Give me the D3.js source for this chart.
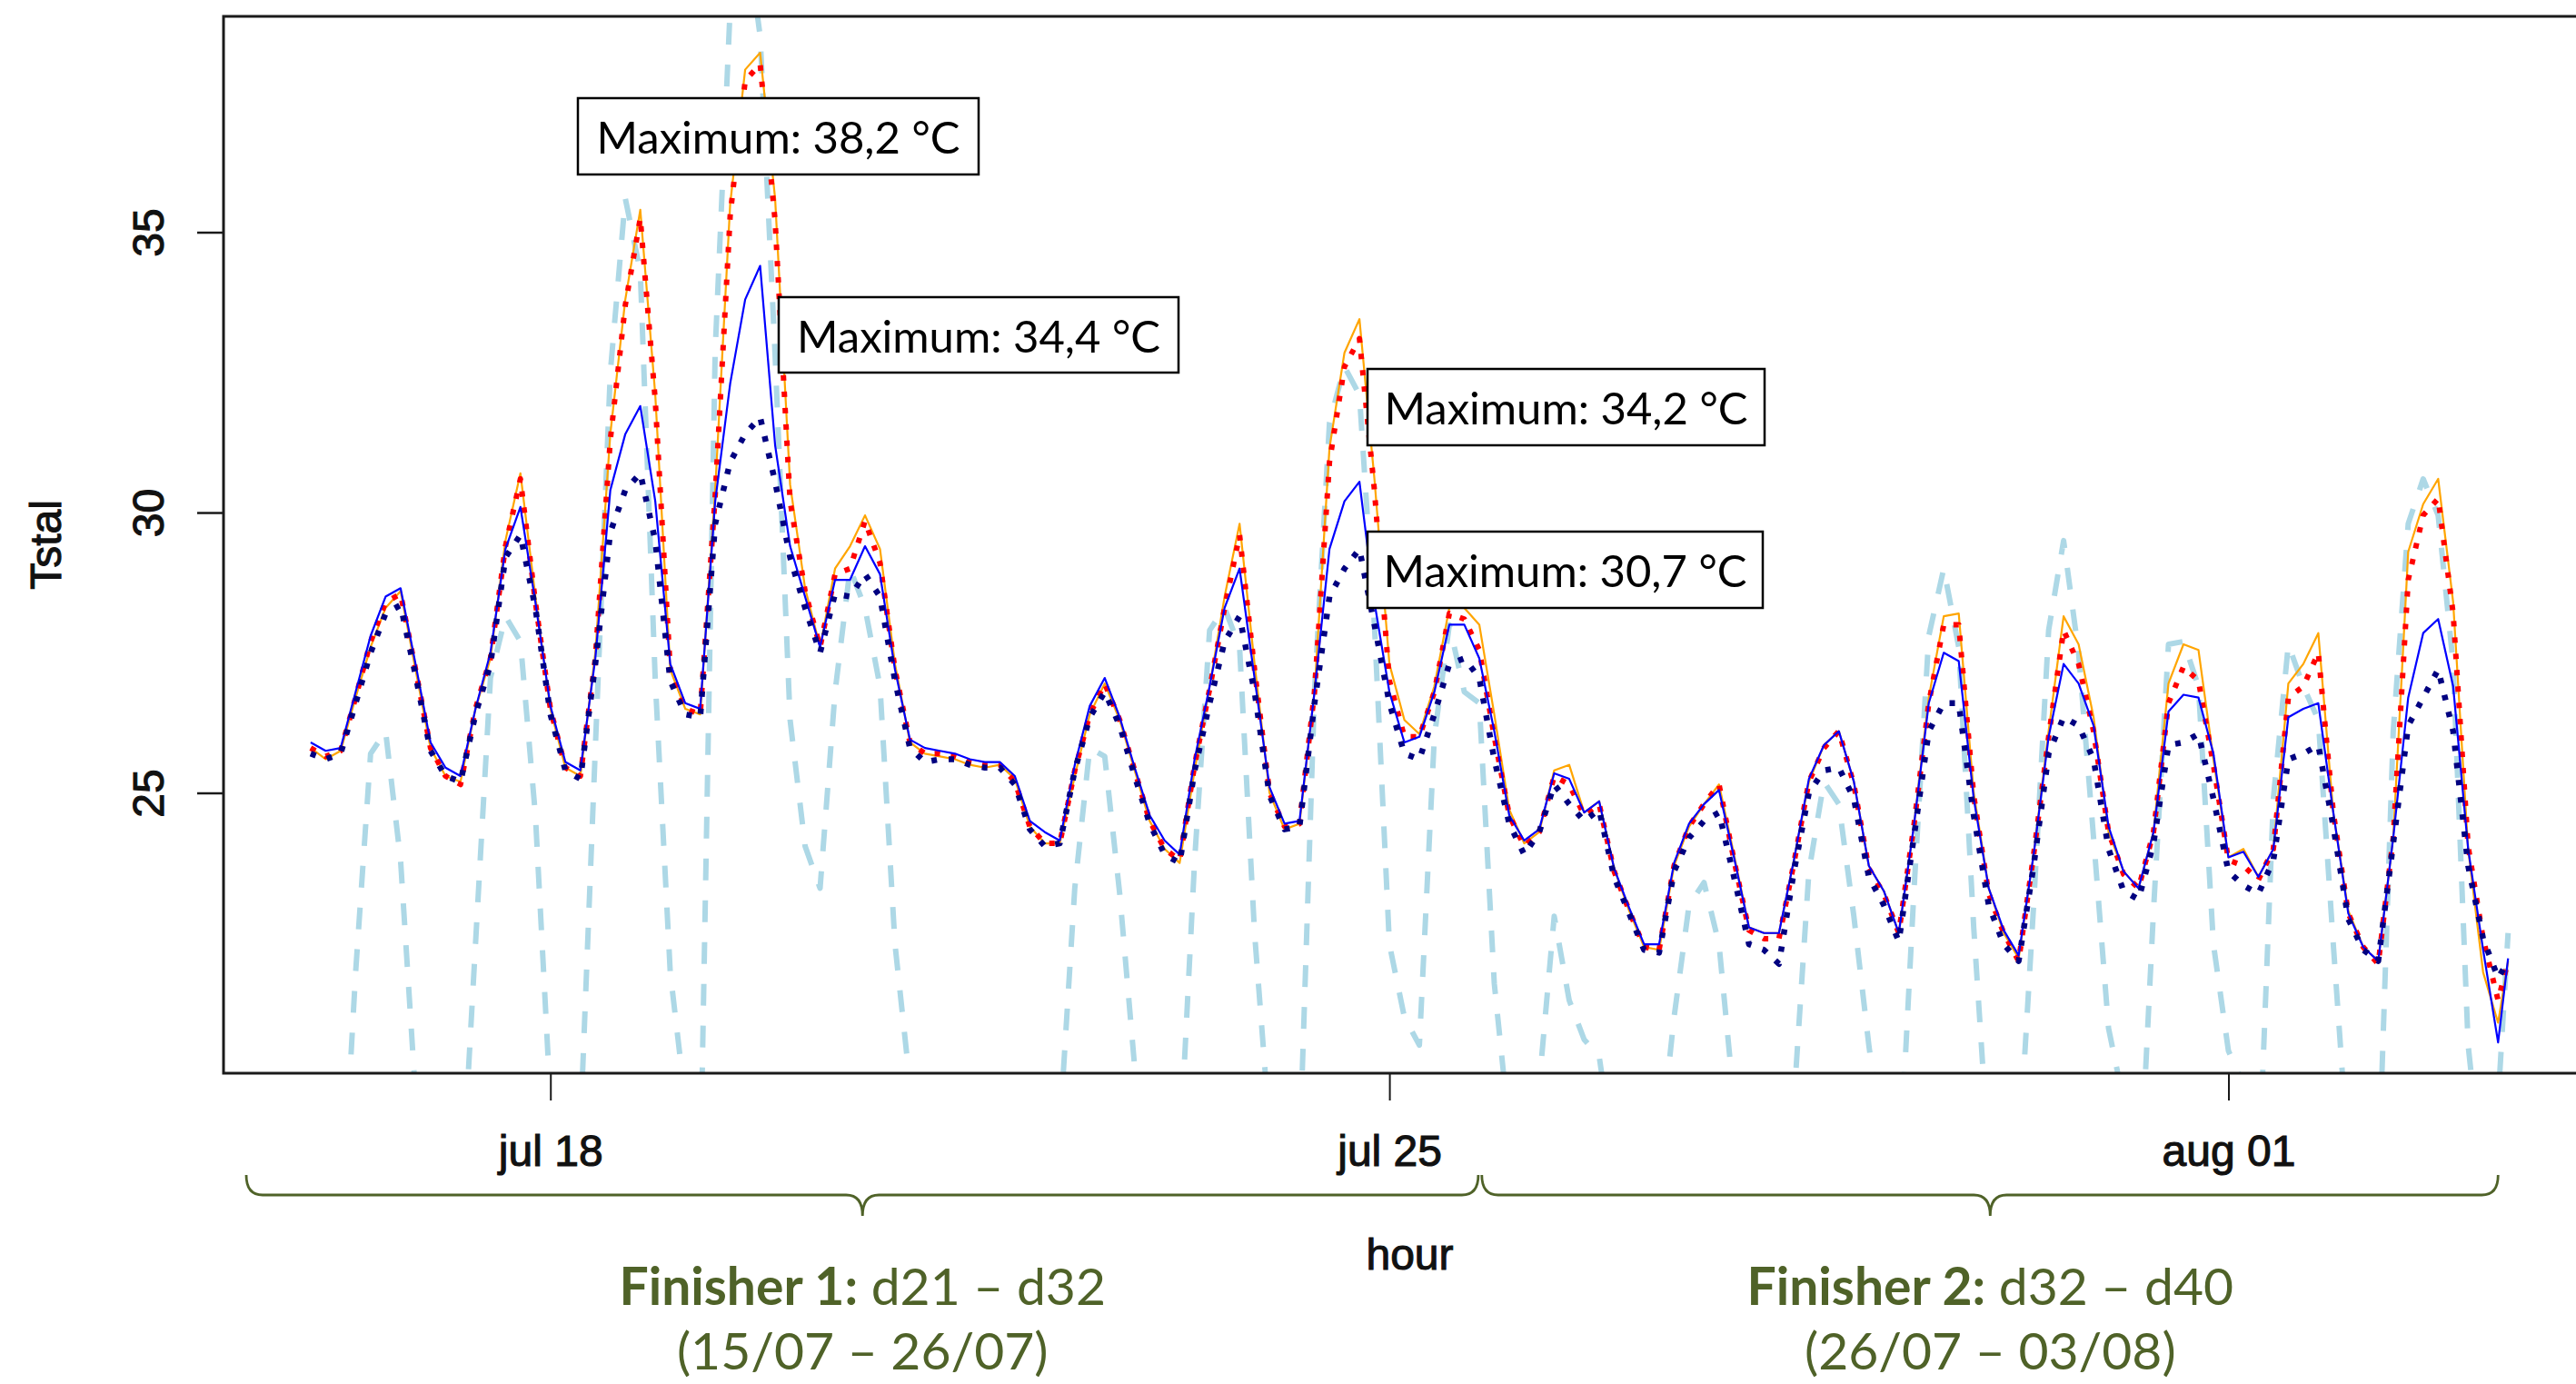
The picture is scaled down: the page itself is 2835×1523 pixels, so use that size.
<!DOCTYPE html>
<html><head><meta charset="utf-8">
<script src="https://cdn.jsdelivr.net/npm/d3@7"></script>
<style>
html,body{margin:0;padding:0;background:#fff;overflow:hidden}
svg{display:block}
</style></head>
<body>
<svg id="chart" width="2835" height="1523"></svg>
<script>
// ---------- DATA ----------
// hours since 16 Jul 00:00 (3-hourly readings)
const hours = [0,3,6,9,12,15,18,21,24,27,30,33,36,39,42,45,48,51,54,57,60,63,66,69,72,75,78,81,84,87,90,93,96,99,102,105,108,111,114,117,120,123,126,129,132,135,138,141,144,147,150,153,156,159,162,165,168,171,174,177,180,183,186,189,192,195,198,201,204,207,210,213,216,219,222,225,228,231,234,237,240,243,246,249,252,255,258,261,264,267,270,273,276,279,282,285,288,291,294,297,300,303,306,309,312,315,318,321,324,327,330,333,336,339,342,345,348,351,354,357,360,363,366,369,372,375,378,381,384,387,390,393,396,399,402,405,408,411,414,417,420,423,426,429,432,435,438,440];

const seriesOrange = [
25.8,25.6,25.75,26.7,27.6,28.3,28.6,27.2,
25.8,25.3,25.2,26.5,27.4,29.5,30.7,28.5,
26.5,25.45,25.3,27.5,31.4,33.8,35.4,32.1,
27.2,26.5,26.4,30.4,35.5,37.9,38.2,35.6,
30.5,28.65,27.6,29.0,29.4,29.95,29.35,27.3,
25.9,25.7,25.65,25.6,25.5,25.45,25.5,25.25,
24.4,24.1,24.1,25.3,26.4,26.95,26.3,25.4,
24.5,24.0,23.75,25.4,26.9,28.5,29.8,27.3,
25.0,24.35,24.45,26.8,31.15,32.85,33.45,30.6,
27.3,26.3,26.05,26.9,28.3,28.3,28.0,26.4,
24.7,24.1,24.3,25.4,25.5,24.65,24.85,23.65,
22.9,22.25,22.2,23.7,24.4,24.8,25.15,23.9,
22.6,22.5,22.5,23.8,25.2,25.85,26.1,25.2,
23.7,23.25,22.5,24.4,26.7,28.15,28.2,25.0,
23.3,22.5,22.05,23.9,26.1,28.15,27.65,26.35,
24.3,23.6,23.3,24.3,26.95,27.65,27.55,25.6,
23.85,24.0,23.5,24.0,26.95,27.3,27.85,24.65,
22.9,22.25,22.0,24.2,29.3,30.15,30.6,28.4,
24.0,21.8,20.9,22.0];

const seriesRed = [
25.8,25.65,25.75,26.7,27.7,28.4,28.55,27.2,
25.8,25.3,25.15,26.5,27.4,29.4,30.6,28.4,
26.5,25.45,25.3,27.4,31.3,33.7,35.25,32.0,
27.2,26.5,26.4,30.3,35.3,37.7,38.0,35.2,
30.2,28.6,27.6,28.9,29.0,29.85,29.1,27.2,
25.9,25.7,25.7,25.65,25.55,25.5,25.5,25.2,
24.4,24.1,24.1,25.4,26.4,26.95,26.3,25.4,
24.5,24.0,23.8,25.5,26.85,28.3,29.6,27.2,
25.0,24.4,24.45,26.8,30.9,32.6,33.1,30.4,
27.0,26.0,26.0,26.8,28.2,28.1,27.55,26.0,
24.6,24.05,24.3,25.3,25.15,24.6,24.8,23.6,
22.9,22.25,22.2,23.7,24.4,24.8,25.15,23.8,
22.55,22.4,22.4,23.75,25.2,25.8,26.1,25.15,
23.65,23.2,22.5,24.4,26.6,28.0,28.0,24.95,
23.2,22.5,22.0,23.9,26.0,27.9,27.3,26.1,
24.3,23.55,23.3,24.3,26.6,27.25,27.0,25.5,
23.8,23.7,23.45,24.0,26.7,26.9,27.5,24.65,
22.85,22.25,21.95,24.2,28.8,29.95,30.25,28.2,
24.05,22.4,21.3,22.0];

const seriesBlue = [
25.9,25.75,25.8,26.8,27.8,28.5,28.65,27.3,
25.9,25.45,25.3,26.5,27.5,29.35,30.1,28.4,
26.55,25.55,25.4,27.4,30.4,31.4,31.9,30.2,
27.3,26.6,26.5,30.2,32.3,33.8,34.4,31.2,
29.4,28.5,27.6,28.8,28.8,29.4,28.9,27.2,
25.95,25.8,25.75,25.7,25.6,25.55,25.55,25.3,
24.5,24.3,24.15,25.5,26.55,27.05,26.35,25.45,
24.6,24.15,23.9,25.6,26.9,28.3,29.0,27.05,
25.1,24.45,24.5,26.8,29.35,30.2,30.55,28.4,
26.8,25.9,26.0,26.8,28.0,28.0,27.4,26.1,
24.6,24.15,24.35,25.35,25.25,24.65,24.85,23.65,
22.95,22.3,22.3,23.75,24.45,24.8,25.05,23.85,
22.6,22.5,22.5,23.8,25.25,25.85,26.1,25.2,
23.7,23.25,22.5,24.4,26.6,27.5,27.35,24.9,
23.3,22.55,22.1,23.9,26.0,27.3,26.95,26.2,
24.4,23.6,23.3,24.3,26.45,26.75,26.7,25.7,
23.85,23.95,23.5,24.0,26.35,26.5,26.6,24.65,
22.85,22.25,22.0,24.2,26.7,27.85,28.1,26.9,
24.0,22.2,20.55,22.05];

const seriesNavy = [
25.7,25.6,25.7,26.6,27.5,28.2,28.35,27.1,
25.75,25.3,25.2,26.4,27.3,29.2,29.6,28.3,
26.4,25.4,25.25,27.3,29.65,30.4,30.7,29.5,
27.0,26.4,26.35,29.8,30.9,31.4,31.7,30.55,
29.2,28.3,27.5,28.55,28.5,28.9,28.5,27.0,
25.8,25.55,25.6,25.6,25.5,25.45,25.45,25.15,
24.35,24.05,24.1,25.4,26.35,26.8,26.2,25.3,
24.45,23.9,23.75,25.4,26.6,27.7,28.15,26.8,
24.95,24.35,24.4,26.6,28.5,29.0,29.35,28.0,
26.6,25.7,25.6,26.4,27.3,27.4,27.05,25.6,
24.45,23.9,24.3,25.15,24.8,24.5,24.7,23.5,
22.85,22.2,22.15,23.6,24.2,24.5,24.65,23.5,
22.3,22.2,21.95,23.6,25.0,25.4,25.45,24.9,
23.5,23.0,22.35,24.2,26.1,26.6,26.6,24.6,
23.0,22.3,22.0,23.7,25.7,26.35,26.2,25.6,
24.0,23.25,23.1,24.1,25.85,25.9,26.05,24.9,
23.6,23.35,23.2,23.8,25.6,25.7,25.85,24.4,
22.75,22.2,22.0,24.1,26.2,26.7,27.2,26.1,
23.7,22.4,21.7,22.0];

const seriesLightBlue = [
17.0,16.5,17.0,21.8,25.7,26.1,23.8,19.6,
17.0,16.0,17.5,22.3,27.05,28.15,27.7,24.6,
19.5,17.0,19.0,25.8,32.5,35.6,34.3,27.0,
21.8,19.5,18.0,32.9,39.0,40.5,38.5,32.8,
26.3,24.05,23.3,26.8,29.0,28.3,26.9,22.3,
19.8,18.5,18.0,18.0,18.5,18.5,18.5,18.0,
17.5,17.0,19.0,23.3,25.8,25.65,23.2,20.1,
18.0,17.5,18.5,23.8,27.9,28.3,27.6,22.5,
19.0,17.5,18.5,26.8,31.6,32.6,32.1,28.0,
22.3,21.0,20.5,26.0,28.0,26.8,26.6,21.6,
19.0,18.5,19.8,22.8,21.3,20.6,20.3,18.5,
17.5,17.0,18.5,21.0,23.0,23.4,22.3,19.5,
18.0,17.5,18.0,19.5,23.6,25.2,24.8,22.8,
20.5,18.5,18.0,23.2,27.8,29.0,27.6,22.6,
18.5,17.5,18.5,23.0,27.9,29.5,27.5,24.2,
20.8,19.5,17.5,22.9,27.65,27.7,26.9,22.3,
20.4,19.8,18.0,24.9,27.65,26.9,26.3,22.3,
18.5,17.5,18.0,26.1,29.8,30.6,29.95,27.3,
20.5,18.0,19.5,22.5];

const xTickDates = ["2019-07-18","2019-07-25","2019-08-01"];
const xTickLabels = ["jul 18","jul 25","aug 01"];
const yTicks = [25, 30, 35];
const maxLabels = ["Maximum: 38,2 °C","Maximum: 34,4 °C","Maximum: 34,2 °C","Maximum: 30,7 °C"];
const periodTitles = ["Finisher 1:","Finisher 2:"];
const periodDays = [" d21 – d32"," d32 – d40"];
const periodDates = ["(15/07 – 26/07)","(26/07 – 03/08)"];

// ---------- LAYOUT ----------
const W = 2835, H = 1523;
const plot = {left: 246, top: 18, right: 2857, bottom: 1181};
const t0 = Date.UTC(2019, 6, 16, 0, 0);
const hourToDate = h => new Date(t0 + h * 3600e3);

const x = d3.scaleUtc()
  .domain([hourToDate(-17.45), hourToDate(457.6)])
  .range([plot.left, plot.right]);
const y = d3.scaleLinear()
  .domain([20.0, 38.85])
  .range([plot.bottom, plot.top]);

const svg = d3.select("#chart");
svg.append("rect").attr("width", W).attr("height", H).attr("fill", "#fff");

svg.append("defs").append("clipPath").attr("id", "plotclip")
  .append("rect").attr("x", plot.left).attr("y", plot.top)
  .attr("width", plot.right - plot.left).attr("height", plot.bottom - plot.top);

const gLines = svg.append("g").attr("clip-path", "url(#plotclip)");
const line = d3.line().x((d, i) => x(hourToDate(hours[i]))).y(d => y(d));

const seriesDefs = [
  {data: seriesLightBlue, color: "#ADD8E6", width: 6, dash: "24 22"},
  {data: seriesOrange, color: "#FFA500", width: 2.2, dash: null},
  {data: seriesRed, color: "#FF0000", width: 6, dash: "6 12"},
  {data: seriesBlue, color: "#0000FF", width: 2.2, dash: null},
  {data: seriesNavy, color: "#000080", width: 6.5, dash: "6 13"}
];
seriesDefs.forEach(s => {
  gLines.append("path").datum(s.data)
    .attr("d", line)
    .attr("fill", "none")
    .attr("stroke", s.color)
    .attr("stroke-width", s.width)
    .attr("stroke-linejoin", "round")
    .attr("stroke-dasharray", s.dash);
});

// box
svg.append("rect").attr("x", plot.left).attr("y", plot.top)
  .attr("width", plot.right - plot.left).attr("height", plot.bottom - plot.top)
  .attr("fill", "none").attr("stroke", "#1a1a1a").attr("stroke-width", 3);

const axisFont = "'Liberation Sans', Arial, sans-serif";
const styleAxisText = sel => sel.attr("font-family", axisFont).attr("font-size", 48)
  .attr("fill", "#111").attr("stroke", "#111").attr("stroke-width", 1.1);

// y axis
const yAxis = svg.append("g").attr("transform", `translate(${plot.left},0)`)
  .call(d3.axisLeft(y).tickValues(yTicks).tickSize(29).tickFormat(d3.format("d")));
yAxis.select(".domain").remove();
yAxis.selectAll(".tick line").attr("stroke", "#1a1a1a").attr("stroke-width", 2.5);
yAxis.selectAll(".tick text")
  .attr("x", 0).attr("dy", null).attr("y", 0)
  .attr("text-anchor", "middle")
  .attr("transform", "translate(-66,0) rotate(-90)")
  .call(styleAxisText);

// x axis
const tickDates = xTickDates.map(s => new Date(s + "T00:00:00Z"));
const xAxis = svg.append("g").attr("transform", `translate(0,${plot.bottom})`)
  .call(d3.axisBottom(x).tickValues(tickDates).tickSize(30)
    .tickFormat((d, i) => xTickLabels[i]));
xAxis.select(".domain").remove();
xAxis.selectAll(".tick line").attr("stroke", "#1a1a1a").attr("stroke-width", 2);
xAxis.selectAll(".tick text")
  .attr("y", 102).attr("dy", null)
  .call(styleAxisText);

// axis titles
svg.append("text").attr("transform", `translate(67,${(plot.top + plot.bottom) / 2}) rotate(-90)`)
  .attr("text-anchor", "middle").call(styleAxisText).text("Tstal");
svg.append("text").attr("x", (plot.left + plot.right) / 2).attr("y", 1397)
  .attr("text-anchor", "middle").call(styleAxisText).text("hour");

// maximum label boxes
const annFont = "Lato, 'Noto Sans', sans-serif";
const boxes = [
  {x: 636, y: 108, w: 441, h: 84},
  {x: 857, y: 327, w: 440, h: 83},
  {x: 1505, y: 406, w: 437, h: 84},
  {x: 1505, y: 585, w: 435, h: 84}
];
boxes.forEach((b, i) => {
  svg.append("rect").attr("x", b.x).attr("y", b.y).attr("width", b.w).attr("height", b.h)
    .attr("fill", "#fff").attr("stroke", "#000").attr("stroke-width", 2.5);
  svg.append("text").attr("x", b.x + b.w / 2).attr("y", b.y + 61)
    .attr("text-anchor", "middle").attr("font-family", annFont).attr("font-size", 49)
    .attr("fill", "#000").text(maxLabels[i]);
});

// braces + period labels
const green = "#4F6228";
const braces = [
  {h0: -12.9, hm: 110.5, h1: 233.8},
  {h0: 234.5, hm: 336.3, h1: 438.0}
];
const yTop = 1293, yMid = 1315, yTip = 1338, r = 18;
braces.forEach((b, i) => {
  const x0 = x(hourToDate(b.h0)), xm = x(hourToDate(b.hm)), x1 = x(hourToDate(b.h1));
  const p = `M${x0},${yTop} Q${x0},${yMid} ${x0 + r},${yMid} L${xm - r},${yMid} Q${xm},${yMid} ${xm},${yTip} Q${xm},${yMid} ${xm + r},${yMid} L${x1 - r},${yMid} Q${x1},${yMid} ${x1},${yTop}`;
  svg.append("path").attr("d", p).attr("fill", "none").attr("stroke", green).attr("stroke-width", 2.8);
  const t = svg.append("text").attr("x", xm).attr("y", 1436).attr("text-anchor", "middle")
    .attr("font-family", annFont).attr("font-size", 57).attr("fill", green);
  t.append("tspan").attr("font-weight", 700).text(periodTitles[i]);
  t.append("tspan").attr("font-weight", 400).text(periodDays[i]);
  svg.append("text").attr("x", xm).attr("y", 1507).attr("text-anchor", "middle")
    .attr("font-family", annFont).attr("font-size", 57).attr("fill", green).text(periodDates[i]);
});
</script>
</body></html>
